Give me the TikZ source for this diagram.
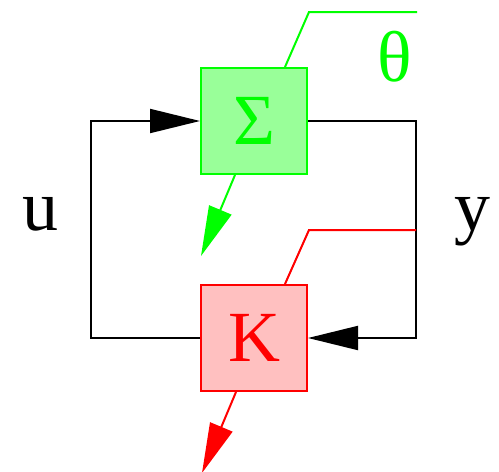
\documentclass[tikz,border=0pt]{standalone}
\usepackage{fontspec}
\setmainfont{Liberation Serif}
\usetikzlibrary{positioning,arrows.meta,calc}
\definecolor{sysgreen}{HTML}{00FF00}
\definecolor{sysfill}{HTML}{99FF99}
\definecolor{ctrlred}{HTML}{FF0000}
\definecolor{ctrlfill}{HTML}{FFC0C0}
\tikzset{
  blockbox/.style = {rectangle, line width=2pt, minimum width=106pt, minimum height=106pt,
                     inner sep=0pt, font=\fontsize{72}{72}\selectfont},
  sysbox/.style   = {blockbox, draw=sysgreen, fill=sysfill, text=sysgreen},
  ctrlbox/.style  = {blockbox, draw=ctrlred, fill=ctrlfill, text=ctrlred},
  wire/.style     = {line width=2pt, draw=black, -{Triangle[length=50pt,width=24pt]}},
  sysline/.style  = {line width=2pt, draw=sysgreen},
  ctrlline/.style = {line width=2pt, draw=ctrlred},
  sysout/.style   = {sysline, -{Triangle[length=50pt,width=24pt]}},
  ctrlout/.style  = {ctrlline, -{Triangle[length=50pt,width=24pt]}},
  lbl/.style      = {anchor=base, inner sep=0pt, font=\fontsize{72}{72}\selectfont},
}

\begin{document}
\begin{tikzpicture}[x=1pt,y=-1pt]
  \useasboundingbox (0,0) rectangle (499,472);

  \node[sysbox]  (sys) at (254,121) {Σ};
  \node[ctrlbox, below=109pt of sys] (ctrl) {K};

  % feedback loop
  \draw[wire] (ctrl.west) -- ++(-109,0) |- (sys.west);
  \draw[wire] (sys.east) -- ++(108,0) |- (ctrl.east);

  \node[lbl] (ulbl) at (40,230) {u};
  \node[lbl] (ylbl) at (472,230) {y};

  % parameter lines
  \coordinate (thbend) at (309,12);
  \coordinate (thend)  at (417,12);
  \coordinate (kbend)  at (309,230);
  \coordinate (kend)   at (416,230);
  \draw[sysline]  ($(sys.north)+(31,0)$) -- (thbend) -- (thend);
  \draw[ctrlline] ($(ctrl.north)+(31,0)$) -- (kbend) -- (kend);
  \node[lbl, text=sysgreen] (thlbl) at (395,81) {θ};

  % outputs
  \coordinate (systip)  at (201,256);
  \coordinate (ctrltip) at (202,473);
  \draw[sysout]  ($(sys.south)+(-19,0)$) -- (systip);
  \draw[ctrlout] ($(ctrl.south)+(-18,0)$) -- (ctrltip);
\end{tikzpicture}
\end{document}
